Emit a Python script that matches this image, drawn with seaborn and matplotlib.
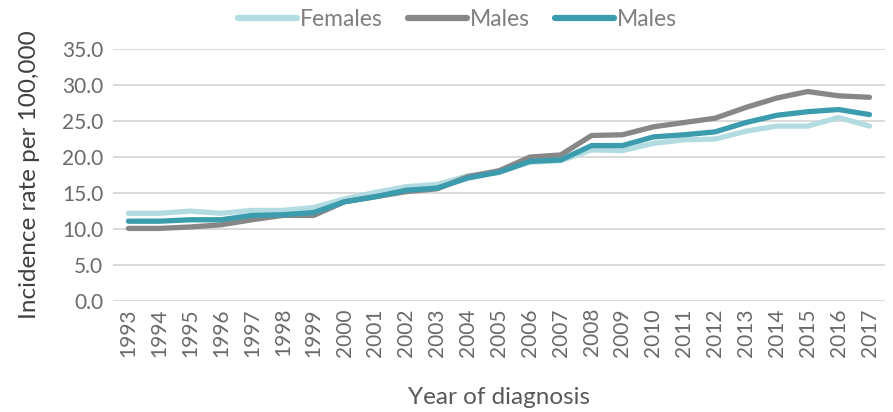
import matplotlib
matplotlib.use("Agg")
import matplotlib.pyplot as plt
import seaborn as sns
import pandas as pd

years = list(range(1993, 2018))
females = [12.2, 12.2, 12.5, 12.2, 12.6, 12.6, 13.0, 14.2, 15.1, 15.9, 16.2, 17.4, 17.9,
           19.3, 19.5, 21.0, 20.9, 21.9, 22.4, 22.5, 23.6, 24.3, 24.3, 25.5, 24.3]
males = [10.1, 10.1, 10.3, 10.6, 11.3, 11.9, 11.9, 13.8, 14.5, 15.2, 15.6, 17.3, 18.1,
         20.0, 20.3, 23.0, 23.1, 24.2, 24.8, 25.4, 26.9, 28.2, 29.1, 28.5, 28.3]
persons = [11.1, 11.1, 11.3, 11.3, 11.9, 12.0, 12.3, 13.8, 14.5, 15.4, 15.7, 17.1, 17.9,
           19.4, 19.6, 21.6, 21.6, 22.8, 23.1, 23.5, 24.8, 25.8, 26.3, 26.6, 25.9]
series_labels = ["Females", "Males", "Males"]
colors = ["#B3DCE2", "#878787", "#3B9CAE"]

sns.set_theme(style="white")
plt.rcParams['font.family'] = ['Lato', 'DejaVu Sans']

fig = plt.figure(figsize=(8.93, 4.12), dpi=100)
ax = fig.add_axes([0.1265, 0.269, 0.8645, 0.612])

for vals, lab, col in zip([females, males, persons], series_labels, colors):
    df = pd.DataFrame({"Year": years, "Rate": vals})
    sns.lineplot(data=df, x="Year", y="Rate", ax=ax, color=col, linewidth=3.8,
                 label=lab, solid_capstyle="round")

ax.set_xlim(1992.5, 2017.5)
ax.set_ylim(0, 35)
ax.set_yticks([0, 5, 10, 15, 20, 25, 30, 35])
ax.set_yticklabels([f"{v:.1f}" for v in [0, 5, 10, 15, 20, 25, 30, 35]])
ax.set_xticks(years)
ax.set_xticklabels([str(y) for y in years], rotation=90)
ax.tick_params(axis="both", length=0, labelsize=15, colors="#6A6A6A")
ax.tick_params(axis="x", pad=5)
ax.tick_params(axis="y", pad=7)
ax.yaxis.grid(True, color="#D9D9D9", linewidth=1.4)
ax.xaxis.grid(False)
for s in ax.spines.values():
    s.set_visible(False)
ax.set_axisbelow(True)

ax.set_xlabel("Year of diagnosis", fontsize=17.5, color="#595959", labelpad=22)
ax.set_ylabel("Incidence rate per 100,000", fontsize=17.5, color="#404040", labelpad=16)

handles, labels = ax.get_legend_handles_labels()
leg = ax.legend(handles, labels, loc="center", bbox_to_anchor=(0.446, 1.118), ncol=3,
                frameon=False, handlelength=2.6, handletextpad=0.1,
                columnspacing=1.1, labelcolor="#7F7F7F", prop={"size": 16.5})
for line in leg.get_lines():
    line.set_linewidth(4.5)

fig.savefig("out.png", dpi=100)
